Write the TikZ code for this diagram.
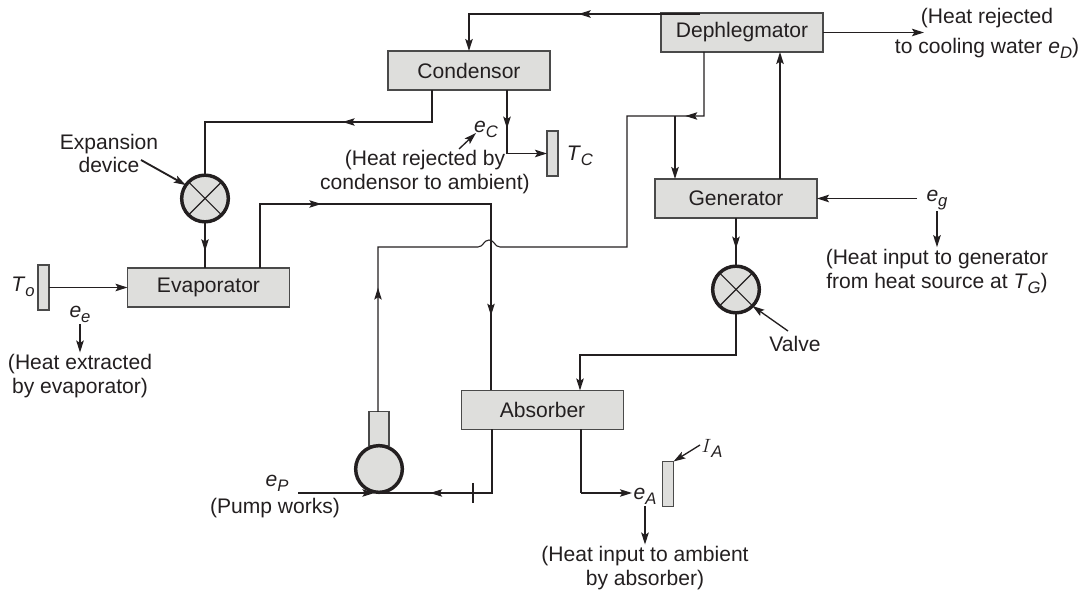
\documentclass[tikz,border=0pt]{standalone}
\usepackage{fontspec}
\setmainfont{Liberation Sans}
\usepackage{xcolor}
\usetikzlibrary{arrows.meta}
\usetikzlibrary{decorations.markings}
\definecolor{inkgray}{HTML}{231F20}
\definecolor{boxgray}{HTML}{DEDEDC}
\definecolor{rimgray}{HTML}{4A4A4A}
\newcommand{\varsub}[2]{\textit{#1}\raisebox{-0.45ex}{\fontsize{12.5}{12.5}\selectfont\textit{#2}}}
\tikzset{>={Stealth[length=9pt,width=5.6pt,inset=1.8pt]}}
\tikzset{
    unitbox/.style={
        draw=rimgray,
        line width=0.8pt,
        fill=boxgray,
        minimum width=121.5pt,
        minimum height=29.25pt,
        outer sep=0pt,
        text=inkgray,
    },
    plate/.style={
        draw=rimgray,
        line width=0.8pt,
        fill=boxgray,
        minimum width=8.25pt,
        minimum height=33.75pt,
        inner sep=0pt,
        outer sep=0pt,
    },
    roundpart/.style={
        circle,
        draw=inkgray,
        line width=2.6pt,
        fill=boxgray,
        minimum size=35pt,
        inner sep=0pt,
        outer sep=0pt,
    },
    label/.style={
        text=inkgray,
        align=center,
        inner sep=1pt,
    },
    thinline/.style={draw=inkgray, line width=0.8pt},
    thickline/.style={draw=inkgray, line width=1.4pt},
    midtip/.style={
        postaction={decorate, decoration={markings, mark=at position #1 with {\arrow{>}}}},
    },
    midtipback/.style={
        postaction={decorate, decoration={markings, mark=at position #1 with {\arrowreversed{>}}}},
    },
}

\begin{document}
\begin{tikzpicture}[x=0.75pt, y=-0.75pt, font=\fontsize{15.8}{18}\selectfont]
    \useasboundingbox (0,0) rectangle (1083,591);

    % main units
    \node[unitbox] (dephlegmator) at (742,32.5) {Dephlegmator};
    \node[unitbox] (condensor) at (469,70.5) {Condensor};
    \node[unitbox] (generator) at (736,198.5) {Generator};
    \node[unitbox] (evaporator) at (208.5,287.5) {Evaporator};
    \node[unitbox] (absorber) at (542.5,410) {Absorber};

    % valves and pump
    \node[roundpart] (expvalve) at (205,198.5) {};
    \node[roundpart] (genvalve) at (736,289.5) {};
    \draw[thinline] (expvalve.45) -- (expvalve.225) (expvalve.135) -- (expvalve.315);
    \draw[thinline] (genvalve.45) -- (genvalve.225) (genvalve.135) -- (genvalve.315);
    \node[
        unitbox,
        minimum width=15pt,
        minimum height=25pt,
    ] (pumphead) at (379,428.5) {};
    \node[roundpart] (pump) at (379,469) {};

    % plates
    \node[plate] (platec) at (552.5,153.5) {};
    \node[plate] (plateo) at (43.5,287.5) {};
    \node[plate] (platea) at (668,484) {};

    % labels
    \node[label] (expansion) at (109,153.5) {Expansion\\[-0.5pt]device};
    \node[label] (valvetext) at (795,344) {Valve};
    \node[label] (tc) at (580,156) {\varsub{T}{C}};
    \node[label] (to) at (23,287) {\varsub{T}{o}};
    \node[label] (ia) at (712,448) {$I$\raisebox{-0.45ex}{\fontsize{12.5}{12.5}\selectfont\textit{A}}};
    \node[label] (ec) at (486,129) {\varsub{e}{C}};
    \node[label] (ee) at (80,314) {\varsub{e}{e}};
    \node[label] (eg) at (937,200) {\varsub{e}{g}};
    \node[label] (ep) at (277,483) {\varsub{e}{P}};
    \node[label] (ea) at (645,496) {\varsub{e}{A}};
    \node[label] (heatd) at (987,33) {(Heat rejected\\[4.5pt]to cooling water \varsub{e}{D})};
    \node[label] (heatc) at (425,172) {(Heat rejected by\\condensor to ambient)};
    \node[label] (heatg) at (937,271) {(Heat input to generator\\from heat source at \varsub{T}{G})};
    \node[label] (heate) at (80,376) {(Heat extracted\\by evaporator)};
    \node[label] (pumptext) at (275,508) {(Pump works)};
    \node[label] (heata) at (645,568) {(Heat input to ambient\\by absorber)};

    % free ends and corners
    \coordinate (dephtap) at (700,14);
    \coordinate (overhead) at (469,14);
    \coordinate (dephdrop) at (704,116);
    \coordinate (branch) at (675,116);
    \coordinate (refluxup) at (780,120);
    \coordinate (dephout) at (924,32.5);
    \coordinate (crossover) at (627,116);
    \coordinate (crossdown) at (627,247);
    \coordinate (hopright) at (500,247);
    \coordinate (hopleft) at (478,247);
    \coordinate (hoppeak) at (489,240);
    \coordinate (pumpriser) at (378,247);
    \coordinate (conddrop) at (432,122);
    \coordinate (condleft) at (205,122);
    \coordinate (plateturn) at (507,153.5);
    \coordinate (evapriser) at (260,204);
    \coordinate (evapacross) at (491,204);
    \coordinate (egstart) at (917,198.5);
    \coordinate (valveturn) at (736,355);
    \coordinate (absturn) at (580,355);
    \coordinate (absbottom) at (492,493);
    \coordinate (ticktop) at (473,483);
    \coordinate (tickbottom) at (473,503);
    \coordinate (pumpwork) at (298,493);
    \coordinate (heatturn) at (581,493);
    \coordinate (expstart) at (141,160);
    \coordinate (valvestart) at (788,331);
    \coordinate (ecstart) at (459,149);
    \coordinate (ecend) at (476,133);
    \coordinate (iastart) at (700,445);

    % dephlegmator connections
    \draw[thickline, ->, midtip=91pt] (dephtap) -- (overhead) -- (condensor.north);
    \draw[thickline, ->] (dephlegmator.east) -- (dephout);
    \draw[thinline, midtip=62pt, midtipback=425pt] (dephlegmator.south -| dephdrop) -- (dephdrop) -- (crossover)
        -- (crossdown) -- (hopright)
        .. controls (495,247) and (494,240) .. (hoppeak)
        .. controls (484,240) and (483,247) .. (hopleft)
        -- (pumpriser) -- (pumphead.north -| pumpriser);
    \draw[thickline, ->] (branch) -- (generator.north -| branch);
    \draw[thickline, ->] (generator.north -| refluxup) -- (dephlegmator.south -| refluxup);

    % condensor connections
    \draw[thickline, ->, midtip=29pt] (condensor.south -| plateturn) -- (plateturn) -- (platec.west);
    \draw[thinline, midtip=91pt] (condensor.south -| conddrop) -- (conddrop) -- (condleft) -- (expvalve.north);
    \draw[thinline, midtip=22pt] (expvalve.south) -- (evaporator.north -| expvalve.south);

    % evaporator connections
    \draw[thickline, ->] (plateo.east) -- (evaporator.west);
    \draw[thinline, midtip=94pt, midtip=305pt] (evaporator.north -| evapriser) -- (evapriser) -- (evapacross)
        -- (absorber.north -| evapacross);

    % generator connections
    \draw[thickline, ->] (egstart) -- (generator.east);
    \draw[thickline, midtip=23pt] (generator.south) -- (genvalve.north);
    \draw[thickline, ->] (genvalve.south) -- (valveturn) -- (absturn) -- (absorber.north -| absturn);

    % absorber connections
    \draw[thinline, midtip=94pt] (absorber.south -| absbottom) -- (absbottom) -- (pump.south |- absbottom);
    \draw[thinline] (ticktop) -- (tickbottom);
    \draw[thickline] (absorber.south -| heatturn) -- (heatturn);
    \draw[thinline, ->] (heatturn) -- (ea.west |- heatturn);
    \draw[thinline, ->, shorten >=3.5pt] (pumpwork) -- (pump.south |- pumpwork);

    % pointers
    \draw[thickline, ->] (expstart) -- (expvalve.145);
    \draw[thickline, ->, line width=1pt] (valvestart) -- (genvalve.-45);
    \draw[thickline, ->, line width=1pt] (ecstart) -- (ecend);
    \draw[thickline, ->, line width=1pt] (iastart) -- (platea.north east);
    \draw[thickline, ->] (ee.south) -- (ee.south |- heate.north);
    \draw[thickline, ->] (eg.south) -- (eg.south |- heatg.north);
    \draw[thickline, ->] (ea.south) -- (ea.south |- heata.north);
\end{tikzpicture}
\end{document}
